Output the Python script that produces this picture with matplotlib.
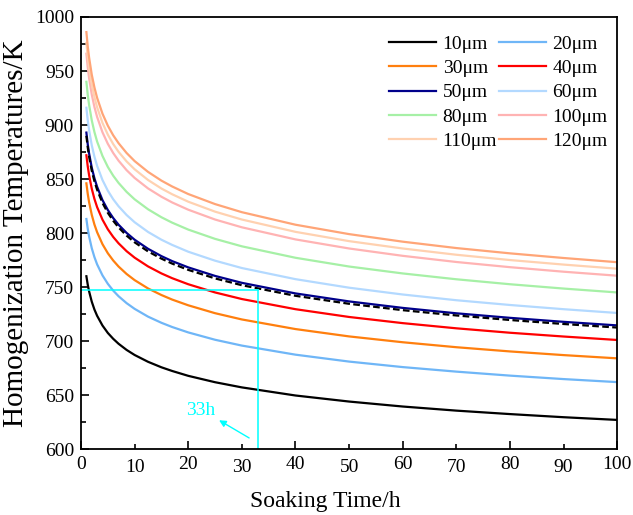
import matplotlib
matplotlib.use("Agg")
import matplotlib.pyplot as plt
from matplotlib.ticker import MultipleLocator, FormatStrFormatter

plt.rcParams["font.family"] = ["Liberation Serif", "DejaVu Serif"]

# soaking time [h] where the curves were read
t = [1, 1.25, 1.5, 2, 2.5, 3, 4, 5, 6, 7, 8.5, 10, 12.5, 15, 17, 20, 25,
     30, 40, 50, 60, 70, 80, 90, 100]

# homogenization temperature [K] per grain size
T10 = [760, 752.3, 746.1, 736.5, 729.2, 723.4, 714.4, 707.5, 702.1, 697.5,
       691.8, 687.1, 680.8, 675.7, 672.3, 667.8, 661.9,
       657.1, 649.6, 644.0, 639.4, 635.6, 632.4, 629.5, 627.0]
T20 = [813, 804.1, 797.0, 786.0, 777.7, 771.0, 760.8, 753.0, 746.7, 741.5,
       735.1, 729.8, 722.6, 716.9, 713.0, 708.0, 701.2,
       695.8, 687.4, 681.0, 675.9, 671.7, 668.0, 664.8, 662.0]
T30 = [846, 836.4, 828.7, 816.9, 807.9, 800.8, 789.7, 781.3, 774.6, 769.0,
       762.1, 756.4, 748.7, 742.6, 738.4, 733.1, 725.8,
       720.0, 711.1, 704.3, 698.9, 694.3, 690.4, 687.0, 684.0]
T40 = [872, 861.8, 853.7, 841.1, 831.6, 824.0, 812.4, 803.5, 796.4, 790.5,
       783.2, 777.2, 769.1, 762.6, 758.2, 752.6, 745.0,
       738.9, 729.5, 722.3, 716.6, 711.8, 707.7, 704.2, 701.0]
T50 = [893, 882.3, 873.8, 860.6, 850.7, 842.8, 830.5, 821.3, 813.9, 807.7,
       800.1, 793.8, 785.4, 778.6, 774.0, 768.2, 760.3,
       753.9, 744.1, 736.7, 730.7, 725.7, 721.5, 717.8, 714.5]
T60 = [916, 904.5, 895.4, 881.3, 870.7, 862.2, 849.1, 839.2, 831.3, 824.8,
       816.7, 810.0, 801.0, 793.8, 789.0, 782.7, 774.4,
       767.6, 757.3, 749.4, 743.1, 737.8, 733.4, 729.5, 726.0]
T80 = [940, 928.2, 918.8, 904.4, 893.5, 884.7, 871.4, 861.2, 853.1, 846.4,
       838.1, 831.2, 822.0, 814.6, 809.6, 803.2, 794.6,
       787.7, 777.1, 769.0, 762.6, 757.2, 752.6, 748.6, 745.0]
T100 = [966, 953.5, 943.6, 928.3, 916.7, 907.5, 893.3, 882.6, 874.1, 867.0,
        858.2, 851.0, 841.3, 833.6, 828.3, 821.6, 812.5,
        805.3, 794.1, 785.7, 778.9, 773.2, 768.4, 764.2, 760.5]
T110 = [976, 963.3, 953.1, 937.6, 925.8, 916.4, 902.0, 891.1, 882.4, 875.2,
        866.3, 859.0, 849.1, 841.2, 835.9, 829.0, 819.8,
        812.5, 801.1, 792.5, 785.7, 779.9, 775.0, 770.8, 767.0]
T120 = [986, 973.0, 962.7, 946.7, 934.8, 925.2, 910.5, 899.4, 890.5, 883.2,
        874.1, 866.6, 856.6, 848.5, 843.1, 836.1, 826.8,
        819.3, 807.7, 799.0, 792.0, 786.1, 781.2, 776.9, 773.0]
# dashed reference curve (no legend entry)
T_dash = [890, 879.4, 870.9, 857.8, 848.0, 840.1, 827.9, 818.7, 811.4, 805.2,
          797.6, 791.4, 783.0, 776.3, 771.7, 765.9, 758.0,
          751.7, 741.9, 734.5, 728.6, 723.7, 719.5, 715.8, 712.5]

labels = ["10μm", "20μm", "30μm", "40μm", "50μm", "60μm",
          "80μm", "100μm", "110μm", "120μm"]
series = [T10, T20, T30, T40, T50, T60, T80, T100, T110, T120]
colors = ["#000000", "#6FB6F7", "#FF7F0E", "#FF0000", "#00008B", "#B3D9FF",
          "#A6F0A6", "#FFB3B3", "#FFD1B0", "#FFA577"]

# marked point: 33 h at 747 K
t_mark = 33
T_mark = 747

fig = plt.figure(figsize=(6.33, 5.15), dpi=100)
ax = fig.add_axes([0.128, 0.128, 0.847, 0.839])

lines = []
for T, c, lab in zip(series, colors, labels):
    ln, = ax.plot(t, T, color=c, lw=1.6, label=lab)
    lines.append(ln)
ax.plot(t, T_dash, color="black", lw=1.6, ls=(0, (3.0, 1.5)))

ax.plot([0, t_mark], [T_mark, T_mark], color="#00FFFF", lw=1.1)
ax.plot([t_mark, t_mark], [T_mark, 600], color="#00FFFF", lw=1.1)
ax.annotate("", xy=(25.3, 628), xytext=(31.8, 609),
            arrowprops=dict(arrowstyle="-|>", color="#00FFFF", lw=1.0,
                            mutation_scale=10))
ax.text(22.3, 636, "33h", color="#00FFFF", fontsize=14,
        ha="center", va="center")

ax.set_xlim(0, 100)
ax.set_ylim(600, 1000)
ax.xaxis.set_major_locator(MultipleLocator(20))
ax.xaxis.set_minor_locator(MultipleLocator(10))
ax.xaxis.set_minor_formatter(FormatStrFormatter("%d"))
ax.yaxis.set_major_locator(MultipleLocator(50))
ax.yaxis.set_minor_locator(MultipleLocator(25))
ax.tick_params(which="both", direction="in", labelsize=14, width=1.2,
               top=False, right=False)
ax.tick_params(which="major", length=6, pad=5)
ax.tick_params(which="minor", length=3.5, pad=7.5)
ax.tick_params(axis="y", which="minor", labelleft=False)
for s in ax.spines.values():
    s.set_linewidth(1.3)

ax.set_xlabel("Soaking Time/h", fontsize=17, labelpad=10)
ax.xaxis.set_label_coords(0.455, -0.098)
ax.set_ylabel("Homogenization Temperatures/K", fontsize=21, labelpad=4)

# legend filled row by row: 10/20, 30/40, ...
order = [0, 2, 4, 6, 8, 1, 3, 5, 7, 9]
ax.legend([lines[i] for i in order], [labels[i] for i in order],
          ncol=2, loc="upper right", frameon=False, fontsize=14,
          handlelength=2.4, handletextpad=0.35, columnspacing=0.1,
          labelspacing=0.35, borderaxespad=0.3,
          bbox_to_anchor=(1.008, 0.99))

fig.savefig("out.png", dpi=100)
